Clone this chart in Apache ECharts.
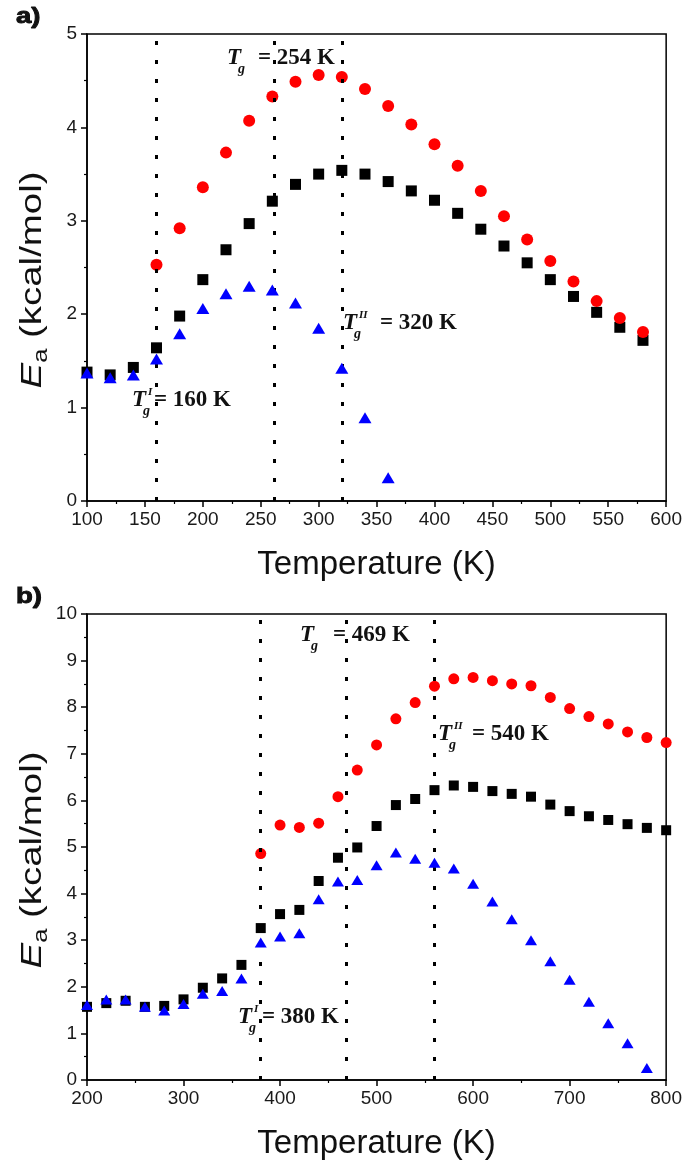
<!DOCTYPE html>
<html>
<head>
<meta charset="utf-8">
<script src="https://cdn.jsdelivr.net/npm/echarts@6/dist/echarts.min.js"></script>
<style>
  html, body { margin: 0; padding: 0; background: #fff; }
  #chart { width: 685px; height: 1166px; }
</style>
</head>
<body>
<div id="chart"></div>
<script>
// panel a) temperatures (K) and activation energies (kcal/mol)
var tempsA = [100, 120, 140, 160, 180, 200, 220, 240, 260, 280, 300, 320, 340,
  360, 380, 400, 420, 440, 460, 480, 500, 520, 540, 560, 580];
var blackA = [1.38, 1.35, 1.43, 1.64, 1.98, 2.37, 2.69, 2.97, 3.21, 3.39, 3.50, 3.54, 3.50,
  3.42, 3.32, 3.22, 3.08, 2.91, 2.73, 2.55, 2.37, 2.19, 2.02, 1.86, 1.72];
var redA = [null, null, null, 2.53, 2.92, 3.36, 3.73, 4.07, 4.33, 4.49, 4.56, 4.54, 4.41,
  4.23, 4.03, 3.82, 3.59, 3.32, 3.05, 2.80, 2.57, 2.35, 2.14, 1.96, 1.81];
var blueA = [1.37, 1.32, 1.35, 1.52, 1.79, 2.06, 2.22, 2.30, 2.26, 2.12, 1.85, 1.42, 0.89,
  0.25, null, null, null, null, null, null, null, null, null, null, null];
var linesA = [160, 262, 320];

// panel b)
var tempsB = [200, 220, 240, 260, 280, 300, 320, 340, 360, 380, 400, 420, 440, 460, 480, 500,
  520, 540, 560, 580, 600, 620, 640, 660, 680, 700, 720, 740, 760, 780, 800];
var blackB = [1.57, 1.65, 1.70, 1.57, 1.59, 1.73, 1.98, 2.18, 2.47, 3.26, 3.56, 3.65, 4.27, 4.77, 4.99, 5.45,
  5.90, 6.03, 6.22, 6.32, 6.29, 6.20, 6.14, 6.08, 5.91, 5.77, 5.66, 5.58, 5.49, 5.41, 5.36];
var redB = [null, null, null, null, null, null, null, null, null, 4.86, 5.47, 5.42, 5.51, 6.08, 6.65, 7.19,
  7.75, 8.10, 8.45, 8.61, 8.64, 8.57, 8.50, 8.46, 8.21, 7.97, 7.80, 7.64, 7.47, 7.35, 7.24];
var blueB = [1.61, 1.73, 1.73, 1.57, 1.49, 1.63, 1.85, 1.91, 2.18, 2.95, 3.08, 3.15, 3.88, 4.26, 4.29, 4.61,
  4.88, 4.75, 4.66, 4.54, 4.21, 3.83, 3.45, 3.00, 2.55, 2.15, 1.68, 1.22, 0.79, 0.26, null];
var linesB = [380, 469, 560];

var sans = '"Liberation Sans", Arial, sans-serif';
var serif = '"Liberation Serif", "Times New Roman", serif';

function pairs (xs, ys) {
  var out = [];
  for (var i = 0; i < xs.length; i++) {
    if (ys[i] != null) out.push([xs[i], ys[i]]);
  }
  return out;
}

function xAxisCfg (idx, min, max, interval) {
  return {
    type: 'value', gridIndex: idx, min: min, max: max, interval: interval,
    name: 'Temperature (K)', nameLocation: 'middle', nameGap: 47,
    nameTextStyle: { fontFamily: sans, fontSize: 33, color: '#111' },
    axisLine: { show: true, onZero: false, lineStyle: { color: '#000', width: 1.5 } },
    axisTick: { show: true, length: 6, lineStyle: { color: '#000', width: 1.5 } },
    minorTick: { show: true, splitNumber: 2, length: 3, lineStyle: { color: '#000', width: 1.2 } },
    splitLine: { show: false },
    axisLabel: { fontFamily: sans, fontSize: 19, color: '#1a1a1a', margin: 9 }
  };
}

function yAxisCfg (idx, max) {
  return {
    type: 'value', gridIndex: idx, min: 0, max: max, interval: 1,
    axisLine: { show: true, onZero: false, lineStyle: { color: '#000', width: 1.5 } },
    axisTick: { show: true, length: 6, lineStyle: { color: '#000', width: 1.5 } },
    minorTick: { show: true, splitNumber: 2, length: 3, lineStyle: { color: '#000', width: 1.2 } },
    splitLine: { show: false },
    axisLabel: { fontFamily: sans, fontSize: 19, color: '#1a1a1a', margin: 10 }
  };
}

function scatter (idx, data, symbol, size, color, z) {
  return {
    type: 'scatter', xAxisIndex: idx, yAxisIndex: idx, data: data,
    symbol: symbol, symbolSize: size, z: z,
    itemStyle: { color: color, opacity: 1 },
    silent: true
  };
}

function dotted (idx, xs) {
  return {
    type: 'line', xAxisIndex: idx, yAxisIndex: idx, data: [], z: 1,
    markLine: {
      silent: true, symbol: 'none', animation: false,
      label: { show: false },
      lineStyle: { color: '#000', width: 3, type: [4, 15], opacity: 1 },
      data: xs.map(function (v) { return { xAxis: v }; })
    }
  };
}

// y axis title, drawn rotated and a bit stretched like the original
function yTitle (cx, cy) {
  return {
    type: 'text', x: cx, y: cy, rotation: Math.PI / 2, scaleX: 1.28, z: 100, silent: true,
    style: {
      text: '{e|E}{s|a} (kcal/mol)', fontFamily: sans, fontSize: 30, lineHeight: 36, fill: '#111',
      textAlign: 'center', textVerticalAlign: 'middle',
      rich: {
        e: { fontFamily: sans, fontSize: 30, fontStyle: 'italic', lineHeight: 36, fill: '#111' },
        s: { fontFamily: sans, fontSize: 20, lineHeight: 36, verticalAlign: 'bottom', fill: '#111' }
      }
    }
  };
}

// T_g annotation: T with subscript g, optional superscript, then the value
function tgLabel (x, y, sup, rest, gap) {
  var kids = [
    { type: 'text', style: { text: 'T', x: 0, y: 0, font: 'italic bold 23px ' + serif, fill: '#111', textVerticalAlign: 'middle' } },
    { type: 'text', style: { text: 'g', x: 11, y: 11, font: 'italic bold 14px ' + serif, fill: '#111', textVerticalAlign: 'middle' } },
    { type: 'text', style: { text: rest, x: gap, y: 0, font: 'bold 23px ' + serif, fill: '#111', textVerticalAlign: 'middle' } }
  ];
  if (sup) {
    kids.push({ type: 'text', style: { text: sup, x: 16, y: -8, font: 'italic bold 11px ' + serif, fill: '#111', textVerticalAlign: 'middle' } });
  }
  return { type: 'group', x: x, y: y, z: 100, silent: true, children: kids };
}

function panelTag (txt, x, y) {
  return {
    type: 'text', x: x, y: y, scaleX: 1.25, z: 100, silent: true,
    style: { text: txt, font: 'bold 22px ' + sans, fill: '#111', stroke: '#111', lineWidth: 0.9, textVerticalAlign: 'top' }
  };
}

var chart = echarts.init(document.getElementById('chart'), null, { renderer: 'canvas' });

chart.setOption({
  animation: false,
  backgroundColor: '#fff',
  grid: [
    { left: 87, top: 34, width: 581, height: 467, show: true, borderColor: '#000', borderWidth: 1.5 },
    { left: 87, top: 614, width: 581, height: 466, show: true, borderColor: '#000', borderWidth: 1.5 }
  ],
  xAxis: [xAxisCfg(0, 100, 600, 50), xAxisCfg(1, 200, 800, 100)],
  yAxis: [yAxisCfg(0, 5), yAxisCfg(1, 10)],
  series: [
    dotted(0, linesA),
    scatter(0, pairs(tempsA, blackA), 'rect', 11, '#000', 3),
    scatter(0, pairs(tempsA, redA), 'circle', 12, '#ff0000', 4),
    scatter(0, pairs(tempsA, blueA), 'triangle', [13, 11], '#0000ff', 5),
    dotted(1, linesB),
    scatter(1, pairs(tempsB, blackB), 'rect', 10, '#000', 3),
    scatter(1, pairs(tempsB, redB), 'circle', 11, '#ff0000', 4),
    scatter(1, pairs(tempsB, blueB), 'triangle', [12, 10], '#0000ff', 5)
  ],
  graphic: [
    panelTag('a)', 16, 6),
    panelTag('b)', 16, 586),
    yTitle(33, 280),
    yTitle(33, 860),
    tgLabel(227, 58, null, '= 254 K', 31),
    tgLabel(132, 400, 'I', '= 160 K', 22),
    tgLabel(343, 323, 'II', '= 320 K', 37),
    tgLabel(300, 635, null, '= 469 K', 33),
    tgLabel(438, 734, 'II', '= 540 K', 34),
    tgLabel(238, 1017, 'I', '= 380 K', 24)
  ]
});

window.addEventListener('resize', function () { chart.resize(); });
</script>
</body>
</html>
